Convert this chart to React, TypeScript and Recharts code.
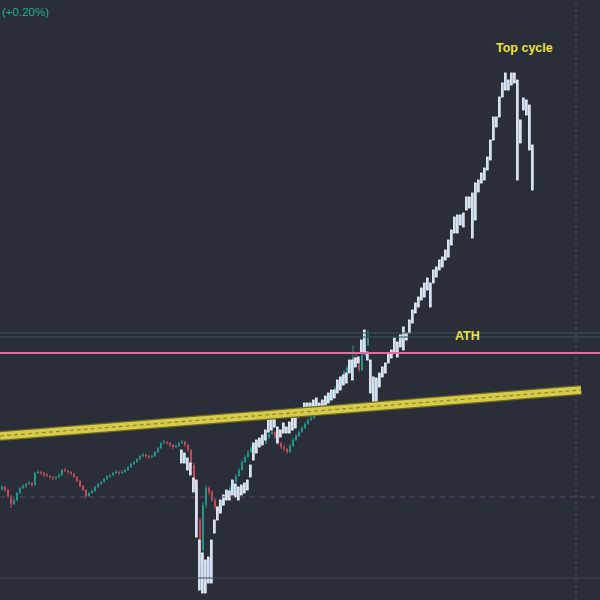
import React from "react";
import {
  ComposedChart,
  Bar,
  XAxis,
  YAxis,
  ReferenceLine,
} from "recharts";

// one slot = one candle, 200 slots across the chart
const SLOTS = 200;

// small candles, [open, high, low, close]
const candles: number[][] = [
  [111, 115, 109, 113], [113, 114, 108, 110], [110, 111, 102, 104], [104, 105, 92, 96],
  [96, 102, 95, 100], [100, 108, 99, 107], [107, 113, 106, 112], [112, 116, 111, 114],
  [114, 117, 112, 116], [116, 119, 115, 117], [117, 118, 113, 115], [115, 128, 114, 127],
  [127, 130, 126, 128], [128, 129, 125, 127], [127, 128, 123, 125], [125, 127, 123, 124],
  [124, 125, 121, 123], [123, 124, 120, 122], [122, 124, 120, 123], [123, 127, 122, 125],
  [125, 131, 124, 130], [130, 132, 128, 129], [129, 130, 126, 128], [128, 129, 125, 126],
  [126, 127, 122, 123], [123, 124, 118, 119], [119, 120, 113, 114], [114, 115, 109, 110],
  [110, 111, 102, 104], [104, 108, 103, 107], [107, 111, 106, 109], [109, 114, 108, 113],
  [113, 117, 112, 116], [116, 119, 115, 118], [118, 122, 117, 121], [121, 125, 120, 124],
  [124, 126, 122, 125], [125, 128, 124, 127], [127, 130, 126, 128], [128, 129, 125, 127],
  [127, 130, 126, 128], [128, 131, 127, 130], [130, 134, 129, 133], [133, 137, 132, 136],
  [136, 139, 135, 138], [138, 142, 137, 141], [141, 145, 140, 144], [144, 147, 143, 145],
  [145, 146, 142, 144], [144, 145, 141, 143], [143, 146, 142, 144], [144, 149, 143, 148],
  [148, 153, 147, 152], [152, 158, 151, 157], [157, 160, 156, 158], [158, 159, 155, 157],
  [157, 158, 153, 155], [155, 156, 151, 153], [153, 156, 152, 154], [154, 158, 153, 157],
  [157, 160, 156, 158], [158, 159, 153, 155], [155, 156, 148, 150], [150, 151, 133, 135],
  [135, 137, 111, 113], [113, 115, 78, 80], [80, 82, 35, 50], [50, 98, 40, 95],
  [95, 115, 92, 112], [112, 114, 105, 108], [108, 110, 98, 100], [100, 102, 90, 93],
  [93, 95, 85, 88], [88, 97, 86, 95], [95, 105, 94, 103], [103, 109, 102, 107],
  [107, 114, 106, 112], [112, 120, 111, 118], [118, 126, 117, 124], [124, 132, 123, 130],
  [130, 140, 129, 138], [138, 145, 137, 143], [143, 150, 142, 148], [148, 154, 147, 152],
  [152, 157, 151, 155], [155, 159, 154, 157], [157, 161, 156, 159], [159, 160, 155, 157],
  [157, 164, 156, 162], [162, 168, 161, 166], [166, 170, 165, 168], [168, 169, 161, 163],
  [163, 164, 155, 157], [157, 158, 151, 153], [153, 155, 149, 151], [151, 152, 146, 148],
  [148, 156, 147, 154], [154, 162, 153, 160], [160, 166, 159, 164], [164, 170, 163, 168],
  [168, 174, 167, 172], [172, 178, 171, 176], [176, 182, 175, 180], [180, 184, 179, 182],
  [182, 188, 181, 186], [186, 189, 185, 187], [187, 192, 186, 190], [190, 197, 189, 195],
  [195, 202, 194, 200], [200, 207, 199, 205], [205, 210, 204, 208], [208, 214, 207, 212],
  [212, 218, 211, 216], [216, 224, 215, 222], [222, 230, 221, 228], [228, 234, 227, 232],
  [232, 240, 231, 238], [238, 255, 237, 243], [243, 246, 233, 235], [235, 237, 228, 230],
  [230, 247, 229, 245], [245, 257, 244, 255], [255, 270, 254, 262],
];

// light blue range bars, [low, high], starting at slot BLUE_START
const BLUE_START = 60;
const blueBars: number[][] = [
  [137, 150], [137, 147], [130, 142], [125, 137], [108, 122], [63, 120], [10, 60], [7, 47],
  [7, 40], [17, 43], [17, 60], [67, 80], [80, 93], [87, 100], [95, 105], [100, 110],
  [100, 109], [105, 120], [103, 116], [100, 113], [105, 115], [107, 117], [110, 120], [123, 135],
  [140, 157], [147, 160], [153, 162], [155, 165], [160, 170], [168, 180], [170, 187], [173, 185],
  [157, 173], [163, 170], [167, 177], [167, 173], [167, 178], [170, 182], [172, 182], [183, 190],
  [186, 192], [190, 197], [187, 197], [190, 197], [190, 200], [192, 202], [187, 197], [190, 200],
  [195, 204], [197, 207], [200, 210], [202, 210], [207, 220], [210, 223], [215, 225], [217, 227],
  [227, 240], [220, 240], [233, 242], [237, 243], [247, 260], [248, 270], [240, 248], [207, 240],
  [197, 223], [195, 222], [213, 227], [223, 233], [227, 237], [237, 247], [242, 250], [247, 262],
  [243, 258], [253, 265], [250, 273], [260, 267], [267, 280], [277, 290], [287, 297], [293, 303],
  [300, 312], [303, 317], [310, 322], [293, 317], [317, 330], [323, 333], [330, 340], [333, 343],
  [340, 350], [343, 360], [355, 370], [367, 383], [367, 385], [375, 385], [373, 387], [390, 403],
  [392, 403], [362, 407], [380, 417], [408, 420], [417, 427], [420, 432], [430, 443], [440, 460],
  [460, 483], [473, 483], [483, 503], [503, 517], [510, 527], [510, 520], [515, 527], [517, 527],
  [420, 520], [457, 480], [490, 502], [485, 500], [450, 495], [410, 455],
];

// horizontal levels
const athLevel = 247;
const athBand = [263, 267];
const dashedLevel = 103;
const lowLevel = 22;
const cycleMarker = 191.5;
// support trendline, [slot, price]
const trendStart = [-0.5, 164];
const trendEnd = [193.2, 210];

const BG = "#2a2e39";
const GREEN = "#26a69a";
const RED = "#e0505e";

const rows = Array.from({ length: SLOTS }, (_, i) => {
  const c = candles[i];
  const b = i >= BLUE_START ? blueBars[i - BLUE_START] : undefined;
  return {
    i,
    cr: c ? [c[2], c[1]] : null,
    o: c ? c[0] : null,
    hi: c ? c[1] : null,
    lo: c ? c[2] : null,
    cl: c ? c[3] : null,
    br: b ? b : null,
  };
});

const CandleShape = (props: any) => {
  const { x, y, width, height, payload } = props;
  if (!payload || payload.cr == null || height == null || isNaN(height)) return <g />;
  const top = Math.min(y, y + height);
  const h = Math.abs(height);
  const span = payload.hi - payload.lo || 1;
  const py = (v: number) => top + ((payload.hi - v) / span) * h;
  const up = payload.cl >= payload.o;
  const color = up ? GREEN : RED;
  const cx = x + width / 2;
  const bt = py(Math.max(payload.o, payload.cl));
  const bb = py(Math.min(payload.o, payload.cl));
  return (
    <g opacity={0.85}>
      <line x1={cx} x2={cx} y1={top} y2={top + h} stroke={color} strokeWidth={1} />
      <rect x={x} y={bt} width={width} height={Math.max(1, bb - bt)} fill={color} />
    </g>
  );
};

const BlueShape = (props: any) => {
  const { x, y, width, height, payload } = props;
  if (!payload || payload.br == null || height == null || isNaN(height)) return <g />;
  const top = Math.min(y, y + height);
  const h = Math.abs(height);
  return (
    <rect
      x={x + 0.5}
      y={top}
      width={width - 1}
      height={Math.max(1, h)}
      fill="#c2daf5"
      stroke="#f4f9ff"
      strokeWidth={0.8}
    />
  );
};

const trendSeg = [
  { x: trendStart[0], y: trendStart[1] },
  { x: trendEnd[0], y: trendEnd[1] },
];

export default function App() {
  return (
    <div
      style={{
        position: "fixed",
        left: 0,
        top: 0,
        width: 600,
        height: 600,
        background: BG,
        overflow: "hidden",
      }}
    >
      <ComposedChart
        width={600}
        height={600}
        data={rows}
        margin={{ top: 0, right: 0, bottom: 0, left: 0 }}
      >
        <XAxis xAxisId="c" dataKey="i" type="category" hide />
        <XAxis xAxisId="b" dataKey="i" type="category" hide />
        <XAxis
          xAxisId="ref"
          dataKey="i"
          type="number"
          domain={[-0.5, 199.5]}
          allowDataOverflow
          hide
        />
        <YAxis domain={[0, 600]} hide allowDataOverflow />

        <ReferenceLine xAxisId="ref" y={lowLevel} stroke="#3f4452" strokeWidth={1} />
        <ReferenceLine
          xAxisId="ref"
          y={dashedLevel}
          stroke="#5a4b78"
          strokeWidth={1}
          strokeDasharray="5 5"
        />
        <ReferenceLine xAxisId="ref" y={athBand[0]} stroke="#34555a" strokeWidth={1} />
        <ReferenceLine xAxisId="ref" y={athBand[1]} stroke="#34555a" strokeWidth={1} />
        <ReferenceLine
          xAxisId="ref"
          x={cycleMarker}
          stroke="#4b5060"
          strokeWidth={1}
          strokeDasharray="3 3"
        />

        <Bar
          xAxisId="c"
          dataKey="cr"
          barSize={2}
          shape={CandleShape}
          isAnimationActive={false}
        />
        <Bar
          xAxisId="b"
          dataKey="br"
          barSize={4}
          shape={BlueShape}
          isAnimationActive={false}
        />

        <ReferenceLine xAxisId="ref" y={athLevel} stroke="#e46b9c" strokeWidth={2} />

        <ReferenceLine
          xAxisId="ref"
          segment={trendSeg}
          stroke="#6e6722"
          strokeWidth={10}
          ifOverflow="visible"
        />
        <ReferenceLine
          xAxisId="ref"
          segment={trendSeg}
          stroke="#d6cc4a"
          strokeWidth={7.5}
          ifOverflow="visible"
        />
        <ReferenceLine
          xAxisId="ref"
          segment={trendSeg}
          stroke="#8f8632"
          strokeWidth={1.2}
          strokeDasharray="4 3"
          ifOverflow="visible"
        />
      </ComposedChart>

      <div
        style={{
          position: "absolute",
          left: 2,
          top: 6,
          color: "#22ab94",
          font: "11.5px 'Liberation Sans', Arial, sans-serif",
        }}
      >
        (+0.20%)
      </div>
      <div
        style={{
          position: "absolute",
          left: 496,
          top: 41,
          color: "#ece43c",
          font: "bold 12.5px 'Liberation Sans', Arial, sans-serif",
        }}
      >
        Top cycle
      </div>
      <div
        style={{
          position: "absolute",
          left: 455,
          top: 329,
          color: "#ece43c",
          font: "bold 12.5px 'Liberation Sans', Arial, sans-serif",
        }}
      >
        ATH
      </div>
    </div>
  );
}
